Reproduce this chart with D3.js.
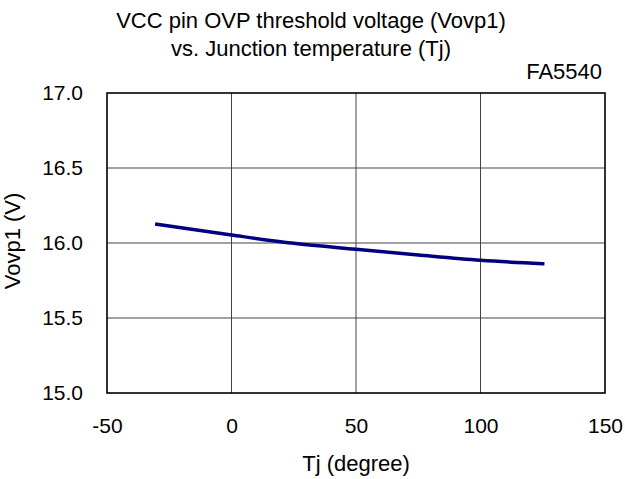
<!DOCTYPE html>
<html>
<head>
<meta charset="utf-8">
<script src="https://cdn.jsdelivr.net/npm/d3@7"></script>
<style>
  body { margin: 0; background: white; }
  text { font-family: "Liberation Sans", Arial, sans-serif; fill: #000; }
</style>
</head>
<body>
<div id="chart"></div>
<script>
// data
const tj = [-30, 0, 25, 50, 75, 100, 125];
const vovp1 = [16.125, 16.053, 15.998, 15.958, 15.92, 15.885, 15.862];
const xTicks = [-50, 0, 50, 100, 150];
const yTicks = [15.0, 15.5, 16.0, 16.5, 17.0];

const width = 625, height = 479;
const margin = {left: 107, right: 20, top: 93, bottom: 86};

const svg = d3.select("#chart").append("svg")
    .attr("width", width)
    .attr("height", height);

const x = d3.scaleLinear().domain([-50, 150]).range([margin.left, width - margin.right]);
const y = d3.scaleLinear().domain([15, 17]).range([height - margin.bottom, margin.top]);

// grid
const grid = svg.append("g");
grid.selectAll(".vline")
    .data(xTicks.slice(1, -1))
    .enter().append("line")
    .attr("x1", d => x(d)).attr("x2", d => x(d))
    .attr("y1", y(15)).attr("y2", y(17))
    .style("stroke", "#444")
    .style("stroke-width", 1);
grid.selectAll(".hline")
    .data(yTicks.slice(1, -1))
    .enter().append("line")
    .attr("x1", x(-50)).attr("x2", x(150))
    .attr("y1", d => y(d)).attr("y2", d => y(d))
    .style("stroke", "#444")
    .style("stroke-width", 1);

// frame
svg.append("rect")
    .attr("x", x(-50)).attr("y", y(17))
    .attr("width", x(150) - x(-50))
    .attr("height", y(15) - y(17))
    .style("fill", "none")
    .style("stroke", "#000")
    .style("stroke-width", 1.6);

// axes
const xAxis = svg.append("g")
    .attr("transform", "translate(0," + y(15) + ")")
    .call(d3.axisBottom(x).tickValues(xTicks).tickSize(0).tickPadding(25).tickFormat(d3.format("d")));
const yAxis = svg.append("g")
    .attr("transform", "translate(" + x(-50) + ",0)")
    .call(d3.axisLeft(y).tickValues(yTicks).tickSize(0).tickPadding(24).tickFormat(d3.format(".1f")));
[xAxis, yAxis].forEach(a => {
    a.select(".domain").remove();
    a.selectAll("text").style("font-size", "21px").style("font-family", "Liberation Sans, Arial, sans-serif");
});
// plain hyphen for the minus sign, as in the reference
xAxis.selectAll("text").text(d => String(d));

// curve
const line = d3.line()
    .x((d, i) => x(tj[i]))
    .y(d => y(d))
    .curve(d3.curveMonotoneX);
svg.append("path")
    .datum(vovp1)
    .attr("d", line)
    .style("fill", "none")
    .style("stroke", "#000080")
    .style("stroke-width", 3.4)
    .style("stroke-linecap", "square");

// titles
svg.append("text")
    .attr("x", 311).attr("y", 28)
    .attr("text-anchor", "middle")
    .style("font-size", "22px")
    .text("VCC pin OVP threshold voltage (Vovp1)");
svg.append("text")
    .attr("x", 311).attr("y", 56)
    .attr("text-anchor", "middle")
    .style("font-size", "22px")
    .text("vs. Junction temperature (Tj)");
svg.append("text")
    .attr("x", 602).attr("y", 79)
    .attr("text-anchor", "end")
    .style("font-size", "22px")
    .text("FA5540");
svg.append("text")
    .attr("x", 356).attr("y", 471)
    .attr("text-anchor", "middle")
    .style("font-size", "22px")
    .text("Tj (degree)");
svg.append("text")
    .attr("transform", "translate(20,241) rotate(-90)")
    .attr("text-anchor", "middle")
    .style("font-size", "22px")
    .text("Vovp1 (V)");
</script>
</body>
</html>
